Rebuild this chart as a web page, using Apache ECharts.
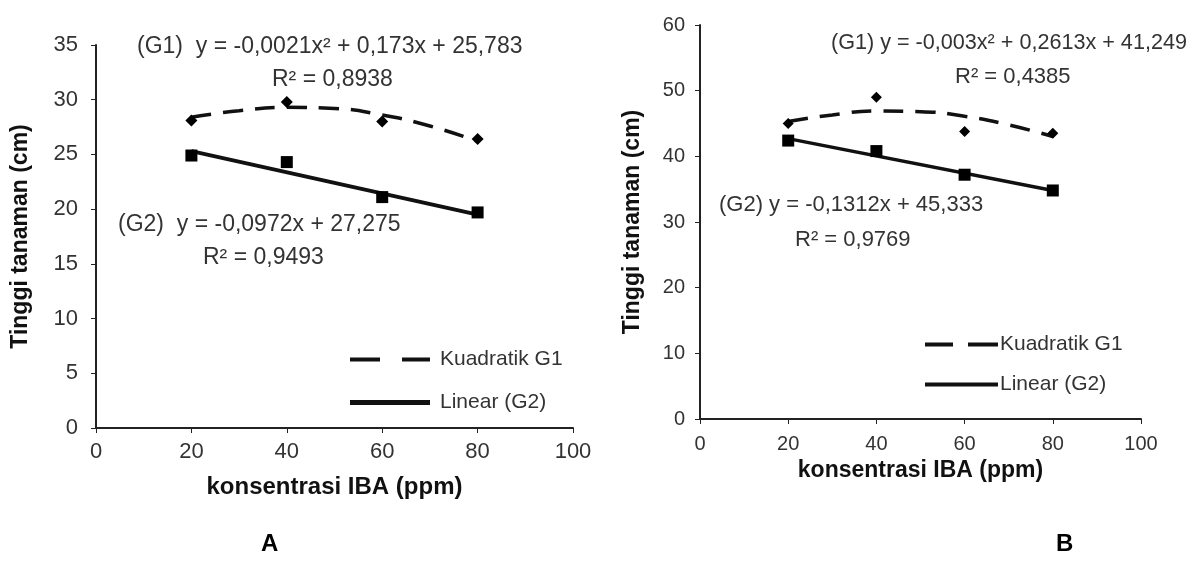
<!DOCTYPE html>
<html>
<head>
<meta charset="utf-8">
<script src="https://cdn.jsdelivr.net/npm/echarts@6/dist/echarts.min.js"></script>
<style>
html,body{margin:0;padding:0;background:#fff;}
#chart{width:1194px;height:581px;}
</style>
</head>
<body>
<div id="chart"></div>
<script>
// x categories (IBA concentration, ppm)
const concentrations = [20, 40, 60, 80];
// Chart A observed values
const aG1 = [28.1, 29.8, 28.0, 26.4];
const aG2 = [24.9, 24.3, 21.1, 19.7];
// Chart A trendlines
const aTrendX = [20, 30, 40, 50, 60, 70, 80];
const aTrendG1 = [28.4, 29.0, 29.3, 29.2, 28.6, 27.6, 26.2];
const aLinX = [20, 80];
const aLinG2 = [25.3, 19.5];
// Chart B observed values
const bG1 = [45.0, 49.0, 43.8, 43.5];
const bG2 = [42.4, 40.8, 37.2, 34.8];
// Chart B trendlines
const bTrendX = [20, 30, 40, 50, 60, 70, 80];
const bTrendG1 = [45.3, 46.3, 46.9, 46.8, 46.1, 44.8, 43.0];
const bLinX = [20, 80];
const bLinG2 = [42.7, 34.8];
// tick settings
const xTicks = [0, 20, 40, 60, 80, 100];
const aYMax = 35, aYStep = 5;
const bYMax = 60, bYStep = 10;
const legendNames = ['Kuadratik G1', 'Linear (G2)'];

const FONT = 'Liberation Sans, Arial, sans-serif';
const pair = (xs, ys) => xs.map((x, i) => [x, ys[i]]);

const chart = echarts.init(document.getElementById('chart'), null, {renderer: 'canvas'});

function xAxis(gridIndex, name, nameGap, nameSize, labelSize, margin) {
  return {
    type: 'value', gridIndex, min: xTicks[0], max: xTicks[xTicks.length - 1],
    interval: xTicks[1] - xTicks[0],
    name, nameLocation: 'middle', nameGap,
    nameTextStyle: {fontFamily: FONT, fontSize: nameSize, fontWeight: 'bold', color: '#111'},
    axisLine: {lineStyle: {color: '#222', width: 2}},
    axisTick: {show: true, inside: false, length: 5, lineStyle: {color: '#222', width: 1}},
    axisLabel: {fontFamily: FONT, fontSize: labelSize, color: '#333', margin},
    splitLine: {show: false}
  };
}
function yAxis(gridIndex, max, step, name, nameGap, nameSize, labelSize, margin) {
  return {
    type: 'value', gridIndex, min: 0, max, interval: step,
    name, nameLocation: 'middle', nameGap,
    nameTextStyle: {fontFamily: FONT, fontSize: nameSize, fontWeight: 'bold', color: '#111'},
    axisLine: {show: true, lineStyle: {color: '#222', width: 2}},
    axisTick: {show: true, inside: false, length: 5, lineStyle: {color: '#222', width: 1}},
    axisLabel: {fontFamily: FONT, fontSize: labelSize, color: '#333', margin},
    splitLine: {show: false}
  };
}

const dashType = [20, 12];

const option = {
  animation: false,
  backgroundColor: '#fff',
  grid: [
    {left: 96, right: 621, top: 45, bottom: 153},
    {left: 700, right: 53, top: 25, bottom: 162}
  ],
  xAxis: [
    xAxis(0, 'konsentrasi IBA (ppm)', 47, 24, 22, 13),
    xAxis(1, 'konsentrasi IBA (ppm)', 39, 23, 20, 15)
  ],
  yAxis: [
    yAxis(0, aYMax, aYStep, 'Tinggi tanaman (cm)', 64, 23, 22, 18),
    yAxis(1, bYMax, bYStep, 'Tinggi tanaman (cm)', 56, 23, 20, 15)
  ],
  legend: [
    {
      data: [
        {name: legendNames[0], icon: 'path://M0,0H30V4H0Z M52,0H80V4H52Z'},
        {name: legendNames[1], icon: 'path://M0,0H80V5H0Z'}
      ],
      orient: 'vertical', left: 345, top: 344,
      itemWidth: 80, itemHeight: 5, itemGap: 22, selectedMode: false,
      textStyle: {fontFamily: FONT, fontSize: 21, color: '#333', padding: [0, 0, 0, 5]}
    },
    {
      data: [
        {name: legendNames[0], icon: 'path://M0,0H28V4H0Z M43,0H73V4H43Z'},
        {name: legendNames[1], icon: 'path://M0,0H73V4H0Z'}
      ],
      orient: 'vertical', left: 920, top: 329,
      itemWidth: 73, itemHeight: 4, itemGap: 19, selectedMode: false,
      textStyle: {fontFamily: FONT, fontSize: 21, color: '#333', padding: [0, 0, 0, -3]}
    }
  ],
  series: [
    {name: 'Kuadratik G1', type: 'line', xAxisIndex: 0, yAxisIndex: 0, smooth: true, symbol: 'none',
     data: pair(aTrendX, aTrendG1), itemStyle: {color: '#111'}, lineStyle: {color: '#111', width: 3.5, type: dashType}, z: 2},
    {name: 'Linear (G2)', type: 'line', xAxisIndex: 0, yAxisIndex: 0, symbol: 'none',
     data: pair(aLinX, aLinG2), itemStyle: {color: '#111'}, lineStyle: {color: '#111', width: 4, type: 'solid'}, z: 2},
    {name: 'G1 A', type: 'scatter', xAxisIndex: 0, yAxisIndex: 0, symbol: 'diamond', symbolSize: 12,
     data: pair(concentrations, aG1), itemStyle: {color: '#000', opacity: 1}, z: 3},
    {name: 'G2 A', type: 'scatter', xAxisIndex: 0, yAxisIndex: 0, symbol: 'rect', symbolSize: 12,
     data: pair(concentrations, aG2), itemStyle: {color: '#000', opacity: 1}, z: 3},

    {name: 'Kuadratik G1', type: 'line', xAxisIndex: 1, yAxisIndex: 1, smooth: true, symbol: 'none',
     data: pair(bTrendX, bTrendG1), itemStyle: {color: '#111'}, lineStyle: {color: '#111', width: 3.5, type: dashType}, z: 2},
    {name: 'Linear (G2)', type: 'line', xAxisIndex: 1, yAxisIndex: 1, symbol: 'none',
     data: pair(bLinX, bLinG2), itemStyle: {color: '#111'}, lineStyle: {color: '#111', width: 3.5, type: 'solid'}, z: 2},
    {name: 'G1 B', type: 'scatter', xAxisIndex: 1, yAxisIndex: 1, symbol: 'diamond', symbolSize: 11,
     data: pair(concentrations, bG1), itemStyle: {color: '#000', opacity: 1}, z: 3},
    {name: 'G2 B', type: 'scatter', xAxisIndex: 1, yAxisIndex: 1, symbol: 'rect', symbolSize: 12,
     data: pair(concentrations, bG2), itemStyle: {color: '#000', opacity: 1}, z: 3}
  ],
  graphic: [
    {type: 'text', left: 137, top: 35, style: {text: '(G1)  y = -0,0021x² + 0,173x + 25,783', font: '23px ' + FONT, fill: '#333'}},
    {type: 'text', left: 272, top: 68, style: {text: 'R² = 0,8938', font: '23px ' + FONT, fill: '#333'}},
    {type: 'text', left: 118, top: 213, style: {text: '(G2)  y = -0,0972x + 27,275', font: '23px ' + FONT, fill: '#333'}},
    {type: 'text', left: 203, top: 246, style: {text: 'R² = 0,9493', font: '23px ' + FONT, fill: '#333'}},

    {type: 'text', left: 831, top: 32, style: {text: '(G1) y = -0,003x² + 0,2613x + 41,249', font: '21.6px ' + FONT, fill: '#333'}},
    {type: 'text', left: 955, top: 66, style: {text: 'R² = 0,4385', font: '22px ' + FONT, fill: '#333'}},
    {type: 'text', left: 719, top: 194, style: {text: '(G2) y = -0,1312x + 45,333', font: '22px ' + FONT, fill: '#333'}},
    {type: 'text', left: 795, top: 229, style: {text: 'R² = 0,9769', font: '22px ' + FONT, fill: '#333'}},

    {type: 'text', left: 261, top: 532, style: {text: 'A', font: 'bold 24px ' + FONT, fill: '#000'}},
    {type: 'text', left: 1056, top: 532, style: {text: 'B', font: 'bold 24px ' + FONT, fill: '#000'}}
  ]
};
chart.setOption(option);
</script>
</body>
</html>
